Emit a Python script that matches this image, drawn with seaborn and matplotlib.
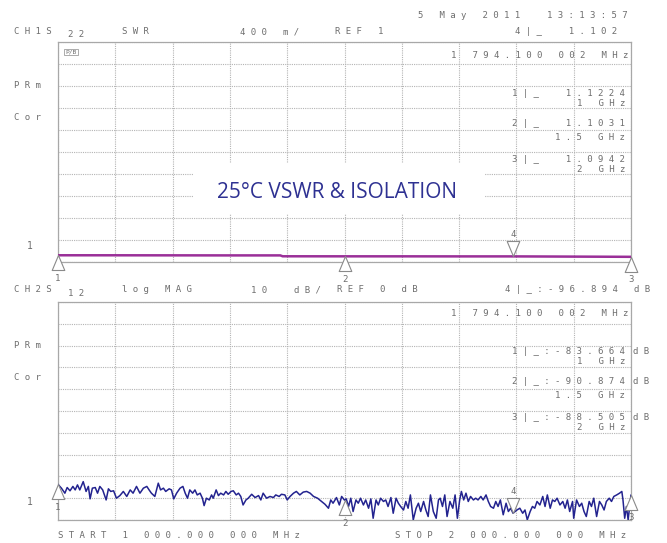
import numpy as np
import pandas as pd
import matplotlib
matplotlib.use("Agg")
import matplotlib.pyplot as plt
import seaborn as sns
from matplotlib.path import Path
from matplotlib.patches import Rectangle

# ---------------- data ----------------
swr_freq_mhz = [1000, 1100, 1200, 1300, 1388, 1392, 1500, 1600, 1700, 1794.1, 1900, 2000]
swr_values = [1.1224, 1.122, 1.121, 1.120, 1.120, 1.104, 1.1031, 1.103, 1.102, 1.102, 1.098, 1.0942]

iso_freq_mhz = [
    1000, 1006, 1012, 1016, 1021, 1026, 1030, 1034, 1038, 1044,
    1049, 1053, 1056, 1060, 1065, 1069, 1073, 1078, 1084, 1088,
    1092, 1097, 1102, 1108, 1114, 1120, 1126, 1131, 1137, 1143,
    1149, 1155, 1159, 1163, 1169, 1175, 1179, 1184, 1188, 1194,
    1198, 1202, 1207, 1213, 1218, 1222, 1226, 1230, 1235, 1239,
    1243, 1248, 1252, 1255, 1259, 1264, 1268, 1271, 1276, 1280,
    1284, 1289, 1293, 1297, 1302, 1306, 1311, 1315, 1319, 1323,
    1328, 1332,
    1338, 1344, 1350, 1354, 1358, 1364, 1370, 1376, 1380, 1386,
    1390, 1396, 1400, 1405, 1411, 1416, 1422, 1428, 1434, 1440,
    1446, 1453, 1460, 1466, 1472, 1476, 1480, 1486, 1491, 1495,
    1500, 1503, 1507, 1511, 1515, 1520, 1524, 1528, 1533, 1537,
    1542, 1546, 1550, 1555, 1559, 1563, 1568, 1572, 1576, 1581,
    1585, 1590, 1594, 1598, 1603, 1607, 1611, 1615, 1620, 1625,
    1629, 1633, 1638, 1642, 1646, 1650, 1655, 1660, 1664,
    1667, 1671, 1675, 1679, 1684, 1689, 1693, 1697, 1701, 1704,
    1708, 1712, 1716, 1720, 1725, 1729, 1733, 1738, 1742, 1747,
    1751, 1755, 1760, 1764, 1768, 1772, 1777, 1782, 1786, 1790,
    1794.1, 1801, 1806, 1811, 1815, 1819, 1824, 1828, 1832, 1836,
    1841, 1846, 1850, 1854, 1859, 1863, 1867, 1871, 1876, 1881,
    1885, 1889, 1893, 1898, 1900, 1905, 1910, 1914, 1918, 1922,
    1927, 1931, 1935, 1940, 1945, 1949, 1953, 1957, 1962, 1966,
    1970, 1975, 1980, 1984, 1986, 1989, 1992, 1995, 2000,
]
iso_db = [
    -83.66, -85.4, -87.7, -85.1, -86.6, -84.6, -86.2, -83.9, -86.2, -82.4,
    -86.9, -84.6, -90.3, -85.4, -85.1, -87.7, -84.6, -86.2, -90.8, -85.7,
    -86.9, -86.6, -90.0, -88.8, -86.9, -89.2, -86.2, -87.7, -84.6, -87.7,
    -85.4, -84.6, -86.2, -87.7, -89.2, -83.1, -86.2, -85.4, -86.9, -85.7,
    -86.2, -90.3, -87.7, -85.4, -84.6, -87.7, -90.0, -86.2, -87.7, -86.2,
    -88.5, -87.7, -90.0, -93.4, -90.0, -90.8, -88.5, -90.0, -86.2, -88.8,
    -87.7, -88.5, -86.9, -88.2, -86.9, -86.6, -88.5, -87.7, -89.2, -93.1,
    -90.8, -90.0,
    -88.2, -89.7, -88.8, -90.8, -87.7, -90.0, -89.2, -89.7, -88.5, -89.2,
    -88.2, -88.5, -90.8, -89.2, -87.7, -86.9, -88.5, -87.2, -86.9, -87.7,
    -89.2, -90.0, -91.5, -92.8, -94.6, -90.8, -92.3, -89.7, -93.1, -89.2,
    -90.87, -90.3, -93.8, -90.0, -96.1, -90.8, -92.3, -90.0, -93.1, -90.8,
    -94.6, -90.3, -99.2, -90.8, -93.1, -90.0, -91.5, -90.8, -93.8, -89.7,
    -96.9, -90.0, -92.3, -93.8, -95.4, -91.5, -94.6, -88.5, -99.9, -94.6,
    -92.3, -96.1, -91.5, -95.4, -98.4, -88.5, -96.1, -99.2, -90.8,
    -90.0, -93.8, -88.5, -98.4, -91.5, -94.6, -88.5, -99.2, -90.8, -86.9,
    -90.8, -87.7, -91.5, -89.2, -90.8, -90.0, -90.8, -89.2, -90.8, -88.5,
    -91.5, -93.8, -94.6, -91.5, -93.8, -90.8, -97.6, -92.3, -96.1, -94.6,
    -96.89, -95.4, -94.6, -96.9, -95.4, -99.9, -96.1, -93.8, -94.6, -91.5,
    -93.1, -89.2, -93.8, -88.5, -94.6, -90.8, -91.5, -90.0, -93.1, -91.5,
    -94.6, -90.8, -96.1, -91.5, -99.2, -90.8, -93.8, -92.3, -96.1, -98.4,
    -91.5, -93.8, -90.0, -98.4, -91.5, -93.1, -95.4, -91.5, -90.0, -91.5,
    -89.2, -88.5, -87.7, -86.9, -90.8, -99.2, -93.8, -99.9, -88.5,
]

marker_freq_mhz = [1000, 1500, 2000, 1794.1]
marker_ids = ["1", "2", "3", "4"]
marker_swr = [1.1224, 1.1031, 1.0942, 1.102]
marker_db = [-83.664, -90.874, -88.505, -96.894]

title_text = "25°C VSWR & ISOLATION"

# ---------------- style ----------------
sns.set_style("white")
plt.rcParams["font.family"] = ["DejaVu Sans"]

W, H = 667, 543
fig = plt.figure(figsize=(W / 100, H / 100), dpi=100)
fig.patch.set_facecolor("white")

GRID = "#b4b4b4"
SPINE = "#a8a8a8"
TXT = "#6e6e6e"
MONO = "DejaVu Sans Mono"


def fy(y):
    return 1 - y / H


ax1 = fig.add_axes([58 / W, fy(262), 573 / W, 220 / H])
ax2 = fig.add_axes([58 / W, fy(520), 573 / W, 218 / H])

df_swr = pd.DataFrame({"freq": swr_freq_mhz, "swr": swr_values})
df_iso = pd.DataFrame({"freq": iso_freq_mhz, "db": iso_db})

sns.lineplot(data=df_swr, x="freq", y="swr", ax=ax1, color="#9a2f98",
             lw=1.8, estimator=None, sort=False, zorder=4)
sns.lineplot(data=df_iso, x="freq", y="db", ax=ax2, color="#23238f",
             lw=1.1, estimator=None, sort=False, zorder=4)

for ax, lo, hi in [(ax1, 1.0, 5.0), (ax2, -100.0, 0.0)]:
    ax.set_xlim(1000, 2000)
    ax.set_ylim(lo, hi)
    ax.set_xticks(np.linspace(1000, 2000, 11))
    ax.set_yticks(np.linspace(lo, hi, 11))
    ax.tick_params(length=0, labelbottom=False, labelleft=False)
    ax.set_xlabel("")
    ax.set_ylabel("")
    ax.grid(True, color=GRID, linestyle=(0, (1, 1)), lw=0.8)
    ax.set_axisbelow(True)
    for s in ax.spines.values():
        s.set_color(SPINE)
        s.set_linewidth(0.9)
    ax.set_facecolor("white")

# marker triangles
up_tri = Path([(0, 0), (-0.42, -1), (0.42, -1), (0, 0)],
              [Path.MOVETO, Path.LINETO, Path.LINETO, Path.CLOSEPOLY])
down_tri = Path([(0, 0), (-0.42, 1), (0.42, 1), (0, 0)],
                [Path.MOVETO, Path.LINETO, Path.LINETO, Path.CLOSEPOLY])

for ax, vals in [(ax1, marker_swr), (ax2, marker_db)]:
    for f, v, mid in zip(marker_freq_mhz, vals, marker_ids):
        is_active = mid == "4"
        ax.plot([f], [v], marker=down_tri if is_active else up_tri, ms=21.6,
                mfc="white", mec="#8a8a8a", mew=0.8, ls="none",
                clip_on=False, zorder=6)
        ax.annotate(mid, (f, v), xytext=(0, 16 if is_active else -16.5),
                    textcoords="offset points", ha="center", va="center",
                    fontsize=6.5, family=MONO, color=TXT,
                    annotation_clip=False, zorder=7)


def sp(s):
    return " ".join(s)


def label(x, y, s, ha="left", size=6.5, color=TXT):
    fig.text(x / W, fy(y), sp(s), ha=ha, va="center", fontsize=size,
             family=MONO, color=color)


# header channel 1
label(628, 15, "5 May 2011  13:13:57", ha="right")
label(14, 32, "CH1S")
label(68, 35, "22")
label(122, 32, "SWR")
label(240, 32, "400 m/")
label(335, 32, "REF 1")
label(617, 32, "4|_  1.102", ha="right")
label(628, 55, "1 794.100 002 MHz", ha="right")
fig.text(71 / W, fy(52), "P/B", ha="center", va="center", fontsize=4.5,
         family=MONO, color=TXT,
         bbox=dict(boxstyle="square,pad=0.15", fc="white", ec="#8a8a8a", lw=0.5))
label(14, 86, "PRm")
label(14, 118, "Cor")
label(625, 93, "1|_  1.1224", ha="right")
label(625, 103, "1 GHz", ha="right")
label(625, 123, "2|_  1.1031", ha="right")
label(625, 137, "1.5 GHz", ha="right")
label(625, 159, "3|_  1.0942", ha="right")
label(625, 169, "2 GHz", ha="right")
label(27, 246, "1", size=7)

# header channel 2
label(14, 290, "CH2S")
label(68, 293, "12")
label(122, 290, "log MAG")
label(251, 290, "10  dB/")
label(337, 290, "REF 0 dB")
label(650, 290, "4|_:-96.894 dB", ha="right")
label(628, 313, "1 794.100 002 MHz", ha="right")
label(14, 345, "PRm")
label(14, 377, "Cor")
label(625, 352, "1|_:-83.664", ha="right")
label(633, 352, "dB")
label(625, 361, "1 GHz", ha="right")
label(625, 381, "2|_:-90.874", ha="right")
label(633, 381, "dB")
label(625, 396, "1.5 GHz", ha="right")
label(625, 417, "3|_:-88.505", ha="right")
label(633, 417, "dB")
label(625, 427, "2 GHz", ha="right")
label(27, 502, "1", size=7)
label(58, 535, "START 1 000.000 000 MHz")
label(395, 535, "STOP 2 000.000 000 MHz")

# title box
fig.add_artist(Rectangle((193 / W, fy(214)), (485 - 193) / W, (214 - 163) / H,
                         transform=fig.transFigure, fc="white", ec="none", zorder=8))
fig.text(337 / W, fy(192), title_text, ha="center", va="center",
         fontsize=15, family=["Open Sans", "DejaVu Sans"], color="#2e3192", zorder=9)

fig.savefig("out.png", dpi=100, facecolor="white")
